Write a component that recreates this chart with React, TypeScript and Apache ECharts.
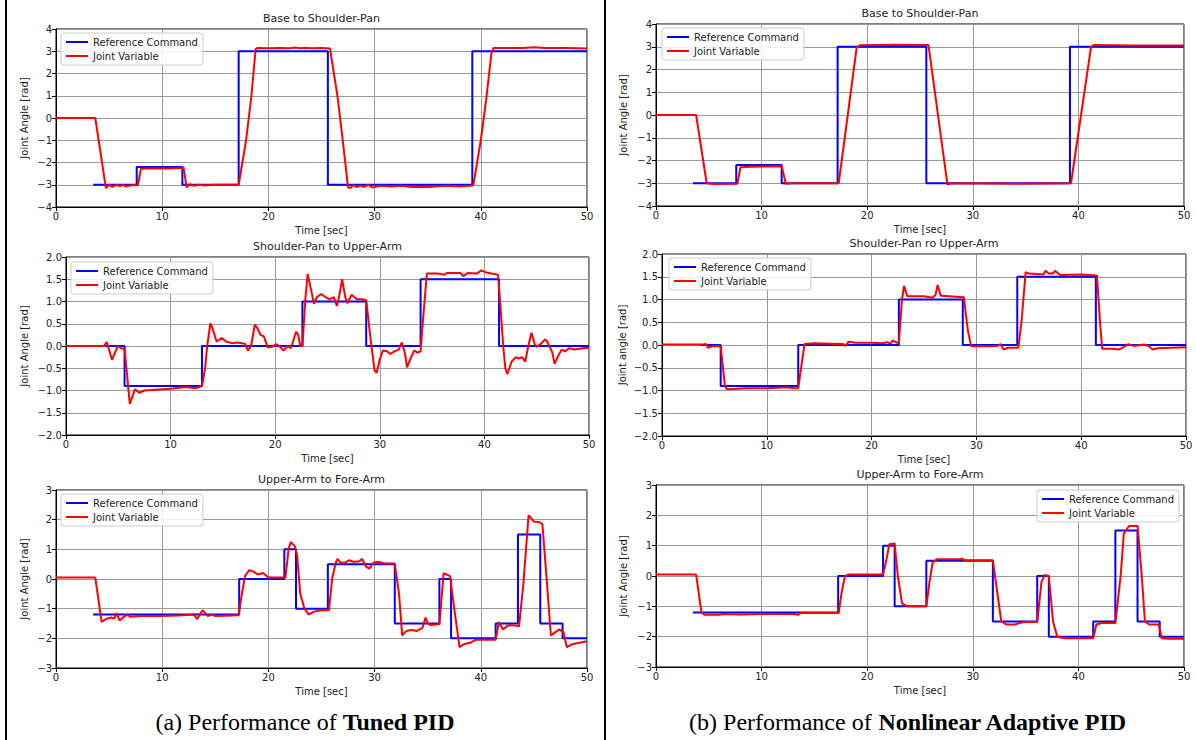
import React, { useEffect, useRef } from "react";
import * as echarts from "echarts";

const FONT = "DejaVu Sans";
const SERIF = "Liberation Serif";

const timeTicks = [0, 10, 20, 30, 40, 50];
const legendNames = ["Reference Command", "Joint Variable"];
const titles = [
  "Base to Shoulder-Pan",
  "Shoulder-Pan to Upper-Arm",
  "Upper-Arm to Fore-Arm",
  "Base to Shoulder-Pan",
  "Shoulder-Pan ro Upper-Arm",
  "Upper-Arm to Fore-Arm",
];
const yLabels = [
  "Joint Angle [rad]",
  "Joint Angle [rad]",
  "Joint Angle [rad]",
  "Joint Angle [rad]",
  "Joint angle [rad]",
  "Joint Angle [rad]",
];

// Reference commands (step: value held from time t until next time)
const refBase = [[3.5, -3], [7.6, -2.2], [11.9, -3], [17.2, 3], [25.6, -3], [39.2, 3], [50, 3]];
const refShoulder = [[3.7, 0], [5.6, -0.9], [13.0, 0], [22.6, 1.0], [28.7, 0], [33.9, 1.5], [41.4, 0], [50, 0]];
const refElbow = [[3.5, -1.2], [17.25, 0], [21.5, 1.0], [22.6, -1.0], [25.6, 0.5], [31.9, -1.5], [36.1, 0], [37.2, -2], [41.4, -1.5], [43.5, 1.5], [45.6, -1.5], [47.7, -2], [50, -2]];

// Tuned PID joint variables
const pidBase = [[0, 0], [3.7, 0], [4.7, -3.15], [5.0, -3.0], [5.3, -3.1], [5.7, -3.0], [6.0, -3.06], [6.3, -3.0], [6.6, -3.08], [7.0, -3.02], [7.7, -3.02], [8.0, -2.28], [9.0, -2.26], [10.5, -2.27], [11.9, -2.25], [12.0, -2.2], [12.3, -3.12], [12.6, -2.97], [13.0, -3.05], [13.5, -3.0], [14.0, -3.03], [15.0, -3.0], [17.2, -3.0], [17.9, -1.0], [18.4, 1.0], [18.8, 3.1], [19.0, 3.15], [20, 3.13], [21, 3.15], [22, 3.14], [22.5, 3.17], [23, 3.13], [23.4, 3.16], [24, 3.14], [25, 3.15], [25.8, 3.12], [26.5, 1.0], [27.0, -1.0], [27.5, -3.12], [27.7, -3.15], [28.0, -3.02], [28.3, -3.1], [28.7, -3.04], [29.0, -3.1], [29.4, -3.0], [29.8, -3.13], [30.5, -3.05], [31.5, -3.08], [32.5, -3.05], [33.5, -3.1], [35, -3.1], [36, -3.07], [37, -3.05], [38, -3.08], [39, -3.04], [39.3, -3.02], [40.0, -1.0], [40.5, 0.8], [41.0, 2.9], [41.2, 3.15], [42, 3.15], [44, 3.15], [45, 3.18], [46, 3.15], [48, 3.15], [50, 3.12]];
const pidShoulder = [[0, 0], [3.6, 0], [3.9, 0.09], [4.4, -0.31], [4.95, 0.0], [5.35, -0.06], [5.6, -0.06], [6.1, -1.3], [6.6, -0.97], [7.0, -1.05], [7.5, -1.0], [10, -0.96], [11.5, -0.92], [12.3, -0.95], [12.8, -0.92], [13.0, -0.9], [13.3, -0.5], [13.5, 0.0], [13.8, 0.51], [14.0, 0.4], [14.4, 0.1], [14.9, 0.18], [15.3, 0.1], [15.9, 0.06], [16.4, 0.08], [17.1, 0.05], [17.4, -0.1], [17.7, 0.0], [18.05, 0.48], [18.3, 0.4], [18.6, 0.25], [18.9, 0.22], [19.3, -0.03], [19.7, -0.02], [20.1, 0.04], [20.4, 0.0], [20.8, -0.1], [21.2, 0.0], [21.5, -0.05], [22.0, 0.32], [22.2, 0.25], [22.4, 0.0], [22.6, 0.0], [22.9, 1.1], [23.1, 1.62], [23.4, 1.3], [23.7, 0.95], [24.0, 1.1], [24.4, 1.17], [24.8, 1.1], [25.2, 1.05], [25.6, 1.1], [25.9, 0.9], [26.1, 1.1], [26.4, 1.5], [26.7, 1.1], [26.9, 0.96], [27.3, 1.15], [27.8, 1.05], [28.3, 1.05], [28.7, 1.03], [29.0, 0.4], [29.2, 0.0], [29.5, -0.55], [29.7, -0.6], [30.0, -0.3], [30.3, -0.1], [30.7, -0.12], [31.0, -0.18], [31.4, -0.12], [31.8, -0.08], [32.1, 0.08], [32.4, -0.15], [32.6, -0.48], [33.0, -0.25], [33.3, -0.1], [33.6, -0.15], [33.9, -0.12], [34.1, 0.5], [34.5, 1.63], [35.5, 1.63], [36.2, 1.6], [36.4, 1.64], [37.7, 1.64], [38.0, 1.57], [38.4, 1.64], [39.3, 1.63], [39.7, 1.7], [40.2, 1.65], [40.9, 1.62], [41.3, 1.6], [41.5, 1.0], [41.8, 0.0], [42.0, -0.5], [42.2, -0.63], [42.6, -0.35], [43.0, -0.25], [43.3, -0.28], [43.6, -0.25], [43.9, -0.35], [44.2, 0.0], [44.5, 0.3], [44.8, 0.05], [45.0, -0.02], [45.4, 0.05], [45.8, 0.15], [46.0, 0.1], [46.5, -0.15], [46.7, -0.4], [47.1, -0.2], [47.4, -0.08], [47.7, -0.12], [48.1, -0.05], [48.6, -0.08], [49.4, -0.05], [50, -0.04]];
const pidElbow = [[0, 0.05], [3.7, 0.05], [4.3, -1.45], [4.7, -1.35], [5.2, -1.3], [5.5, -1.33], [5.7, -1.15], [6.0, -1.4], [6.3, -1.3], [6.7, -1.2], [7.0, -1.27], [8, -1.25], [10, -1.25], [12, -1.22], [13.0, -1.2], [13.3, -1.35], [13.8, -1.05], [14.3, -1.25], [14.7, -1.2], [15, -1.25], [17.2, -1.22], [17.5, -0.5], [17.8, 0.1], [18.2, 0.3], [18.6, 0.25], [19, 0.15], [19.5, 0.2], [20, 0.05], [21, 0.05], [21.6, 0.05], [21.9, 1.0], [22.1, 1.25], [22.5, 1.1], [22.7, 0.8], [23.0, -0.5], [23.4, -1.0], [23.8, -1.2], [24.3, -1.1], [25, -1.05], [25.7, -1.05], [26.0, 0.0], [26.3, 0.5], [26.5, 0.68], [26.8, 0.55], [27.2, 0.55], [27.6, 0.63], [28, 0.58], [28.6, 0.6], [28.8, 0.68], [29.2, 0.42], [29.5, 0.35], [29.9, 0.55], [30.3, 0.58], [31, 0.52], [31.9, 0.52], [32.3, -0.5], [32.6, -1.9], [33.0, -1.75], [33.5, -1.72], [34, -1.75], [34.5, -1.65], [34.8, -1.3], [35.0, -1.5], [35.3, -1.55], [36.1, -1.52], [36.5, 0.2], [36.8, 0.15], [37.1, 0.1], [37.5, -1.0], [38.0, -2.3], [38.4, -2.2], [39, -2.15], [39.5, -2.05], [40, -2.05], [41, -2.05], [41.4, -2.05], [41.7, -1.45], [42.1, -1.7], [42.5, -1.58], [42.8, -1.55], [43.4, -1.58], [43.6, -1.6], [44.0, -0.2], [44.5, 2.15], [45.0, 1.93], [45.5, 1.92], [45.8, 1.85], [46.2, 0.0], [46.6, -1.9], [47.0, -1.8], [47.4, -1.7], [47.8, -1.8], [48.1, -2.3], [48.6, -2.2], [49.3, -2.15], [50, -2.1]];

// Nonlinear adaptive PID joint variables
const napidBase = [[0, 0], [3.8, 0], [4.8, -3.0], [5.5, -3.03], [7.7, -3.02], [8.0, -2.3], [9.0, -2.27], [11.9, -2.25], [12.3, -3.02], [13, -3.0], [17.3, -3.0], [19.0, 2.95], [19.3, 3.07], [22.5, 3.09], [25.8, 3.08], [27.6, -3.06], [28, -3.0], [35, -3.02], [39.3, -3.0], [41.2, 3.0], [41.5, 3.08], [45, 3.06], [50, 3.05]];
const napidShoulder = [[0, 0.01], [4.0, 0.01], [4.2, 0.02], [4.4, -0.06], [4.8, -0.03], [5.6, -0.03], [6.0, -0.9], [6.2, -0.97], [8, -0.95], [10, -0.95], [12.0, -0.93], [12.5, -0.95], [13.0, -0.95], [13.4, -0.3], [13.6, 0.02], [14.5, 0.04], [16, 0.03], [17.3, 0.02], [17.5, -0.02], [17.8, 0.07], [18.5, 0.05], [20, 0.05], [21, 0.04], [21.5, 0.06], [21.8, 0.03], [22.0, 0.1], [22.4, 0.05], [22.6, 0.05], [22.9, 1.0], [23.1, 1.3], [23.4, 1.07], [25, 1.07], [25.8, 1.04], [26.1, 1.1], [26.3, 1.32], [26.6, 1.08], [28.8, 1.05], [29.2, 0.3], [29.5, -0.03], [31, -0.03], [32, -0.02], [32.3, 0.02], [32.6, -0.1], [33, -0.06], [34, -0.06], [34.3, 0.5], [34.7, 1.6], [35.0, 1.57], [36.4, 1.55], [36.6, 1.63], [36.9, 1.57], [37.3, 1.57], [37.5, 1.63], [38.0, 1.54], [40, 1.55], [41.5, 1.53], [41.8, 0.5], [42.0, -0.08], [43, -0.08], [43.6, -0.1], [44.0, -0.05], [44.5, 0.02], [45, -0.02], [46, 0.01], [46.5, -0.03], [46.8, -0.1], [47.3, -0.07], [50, -0.05]];
const napidElbow = [[0, 0.05], [3.8, 0.05], [4.3, -1.2], [4.6, -1.28], [6, -1.28], [6.3, -1.25], [8, -1.27], [10, -1.25], [13, -1.25], [13.5, -1.28], [13.7, -1.22], [17.3, -1.22], [17.6, -0.5], [17.9, 0.0], [18.3, 0.05], [21.5, 0.05], [21.8, 0.5], [22.1, 1.05], [22.6, 1.07], [22.9, 0.0], [23.3, -0.9], [23.8, -1.0], [25.6, -1.0], [25.9, -0.2], [26.2, 0.45], [26.6, 0.55], [28.8, 0.55], [29.0, 0.58], [29.2, 0.52], [31.9, 0.52], [32.3, -0.5], [32.7, -1.5], [33.2, -1.6], [34.0, -1.6], [34.4, -1.55], [35, -1.52], [36.1, -1.52], [36.5, -0.2], [36.8, 0.03], [37.2, 0.0], [37.6, -1.5], [38.0, -2.0], [38.7, -2.05], [41.4, -2.05], [41.7, -1.6], [42.2, -1.55], [43.5, -1.55], [44.0, 0.0], [44.3, 1.4], [44.8, 1.65], [45.6, 1.65], [46.0, 0.0], [46.3, -1.5], [46.7, -1.6], [47.6, -1.6], [47.9, -2.05], [48.5, -2.07], [50, -2.07]];

const fmtInt = (v: number) => (v < 0 ? "\u2212" + Math.abs(v) : String(v));
const fmt1 = (v: number) => (v < 0 ? "\u2212" + Math.abs(v).toFixed(1) : v.toFixed(1));

const panels = [
  { ref: refBase, joint: pidBase, yMin: -4, yMax: 4, yInt: 1, fmt: fmtInt, grid: { left: 56, top: 29, width: 531, height: 178 }, legend: { left: 61, top: 33 }, yGap: 27 },
  { ref: refShoulder, joint: pidShoulder, yMin: -2, yMax: 2, yInt: 0.5, fmt: fmt1, grid: { left: 66, top: 257, width: 523, height: 178 }, legend: { left: 71, top: 262 }, yGap: 37 },
  { ref: refElbow, joint: pidElbow, yMin: -3, yMax: 3, yInt: 1, fmt: fmtInt, grid: { left: 56, top: 490, width: 531, height: 178 }, legend: { left: 61, top: 494 }, yGap: 27 },
  { ref: refBase, joint: napidBase, yMin: -4, yMax: 4, yInt: 1, fmt: fmtInt, grid: { left: 656, top: 24, width: 528, height: 182 }, legend: { left: 662, top: 28 }, yGap: 28 },
  { ref: refShoulder, joint: napidShoulder, yMin: -2, yMax: 2, yInt: 0.5, fmt: fmt1, grid: { left: 662, top: 254, width: 524, height: 182 }, legend: { left: 669, top: 258 }, yGap: 35 },
  { ref: refElbow, joint: napidElbow, yMin: -3, yMax: 3, yInt: 1, fmt: fmtInt, grid: { left: 656, top: 485, width: 528, height: 182 }, legend: { right: 17, top: 490 }, yGap: 28 },
];

function buildOption() {
  const grid: any[] = [];
  const xAxis: any[] = [];
  const yAxis: any[] = [];
  const series: any[] = [];
  const legend: any[] = [];
  const title: any[] = [];
  panels.forEach((p, i) => {
    grid.push({ ...p.grid, show: true, borderColor: "#000", borderWidth: 1, containLabel: false });
    xAxis.push({
      type: "value",
      gridIndex: i,
      min: timeTicks[0],
      max: timeTicks[timeTicks.length - 1],
      interval: timeTicks[1] - timeTicks[0],
      name: "Time [sec]",
      nameLocation: "middle",
      nameGap: 18,
      nameTextStyle: { fontFamily: FONT, fontSize: 10, color: "#222" },
      axisLine: { show: true, onZero: false, lineStyle: { color: "#000", width: 1 } },
      axisTick: { show: true, length: 4, lineStyle: { color: "#000" } },
      axisLabel: { fontFamily: FONT, fontSize: 10, color: "#222", margin: 4 },
      splitLine: { show: true, lineStyle: { color: "#9a9a9a", width: 1 } },
    });
    yAxis.push({
      type: "value",
      gridIndex: i,
      min: p.yMin,
      max: p.yMax,
      interval: p.yInt,
      name: yLabels[i],
      nameLocation: "middle",
      nameGap: p.yGap,
      nameTextStyle: { fontFamily: FONT, fontSize: 10, color: "#222" },
      axisLine: { show: true, onZero: false, lineStyle: { color: "#000", width: 1 } },
      axisTick: { show: true, length: 4, lineStyle: { color: "#000" } },
      axisLabel: { fontFamily: FONT, fontSize: 10, color: "#222", margin: 4, formatter: p.fmt },
      splitLine: { show: true, lineStyle: { color: "#9a9a9a", width: 1 } },
    });
    series.push({
      type: "line",
      name: legendNames[0],
      xAxisIndex: i,
      yAxisIndex: i,
      data: p.ref,
      step: "end",
      symbol: "none",
      color: "#0000ff",
      lineStyle: { color: "#0000ff", width: 2 },
      z: 2,
    });
    series.push({
      type: "line",
      name: legendNames[1],
      xAxisIndex: i,
      yAxisIndex: i,
      data: p.joint,
      symbol: "none",
      color: "#ff0000",
      lineStyle: { color: "#ff0000", width: 2 },
      z: 3,
    });
    legend.push({
      ...p.legend,
      data: legendNames,
      orient: "vertical",
      icon: "rect",
      itemWidth: 22,
      itemHeight: 2,
      itemGap: 2,
      padding: [3, 5, 3, 5],
      borderColor: "#ccc",
      borderWidth: 1,
      borderRadius: 3,
      backgroundColor: "rgba(255,255,255,0.85)",
      selectedMode: false,
      textStyle: { fontFamily: FONT, fontSize: 10, color: "#222", lineHeight: 12 },
    });
    title.push({
      text: titles[i],
      left: p.grid.left + p.grid.width / 2,
      top: p.grid.top - 16,
      textAlign: "center",
      padding: 0,
      textStyle: { fontFamily: FONT, fontSize: 11, fontWeight: "normal", color: "#222" },
    });
  });

  const caption = (x: number, a: string, b: string) => ({
    type: "text",
    x,
    y: 722,
    style: {
      text: `{n|${a}}{b|${b}}`,
      align: "center",
      verticalAlign: "middle",
      textAlign: "center",
      textVerticalAlign: "middle",
      fontFamily: SERIF,
      fontSize: 24,
      fill: "#000",
      rich: {
        n: { fontFamily: SERIF, fontSize: 24, fill: "#000", color: "#000" },
        b: { fontFamily: SERIF, fontSize: 24, fontWeight: "bold", fill: "#000", color: "#000" },
      },
    },
  });

  return {
    animation: false,
    backgroundColor: "#fff",
    grid,
    xAxis,
    yAxis,
    series,
    legend,
    title,
    graphic: [
      { type: "rect", shape: { x: 5, y: 0, width: 2, height: 740 }, style: { fill: "#000" } },
      { type: "rect", shape: { x: 604, y: 0, width: 2, height: 740 }, style: { fill: "#000" } },
      caption(305, "(a) Performance of ", "Tuned PID"),
      caption(908, "(b) Performance of ", "Nonlinear Adaptive PID"),
    ],
  };
}

export default function App() {
  const ref = useRef<HTMLDivElement>(null);
  useEffect(() => {
    document.body.style.margin = "0";
    if (!ref.current) return;
    const chart = echarts.init(ref.current, null, { renderer: "svg" });
    chart.setOption(buildOption() as any);
    return () => chart.dispose();
  }, []);
  return <div ref={ref} style={{ width: 1196, height: 740, position: "absolute", left: 0, top: 0 }} />;
}
